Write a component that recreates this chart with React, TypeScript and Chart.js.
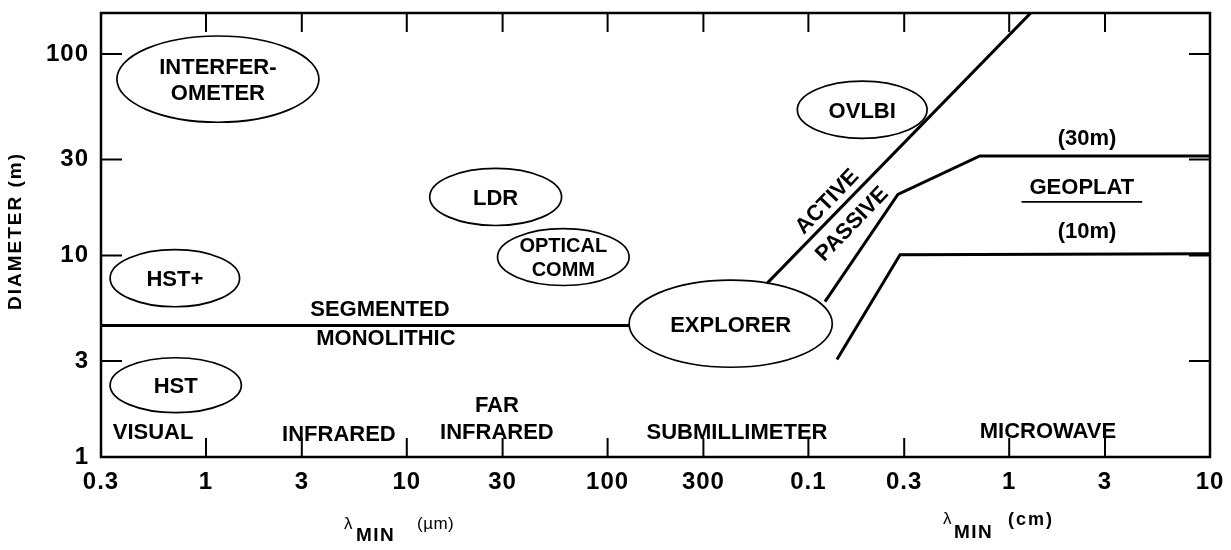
import React, { useEffect, useRef } from "react";
import { Chart, registerables } from "chart.js";

Chart.register(...registerables);

// ---------- data ----------
const xTickValues = [0.3, 1, 3, 10, 30, 100, 300, 1000, 3000, 10000, 30000, 100000];
const xTickLabels = ["0.3", "1", "3", "10", "30", "100", "300", "0.1", "0.3", "1", "3", "10"];
const yTickValues = [1, 3, 10, 30, 100];
const yTickLabels = ["1", "3", "10", "30", "100"];

// boundary lines (λ in µm, diameter in m)
const segmentedLine = [
  { x: 0.3, y: 4.5 },
  { x: 128, y: 4.5 },
];
const activeLine = [
  { x: 622, y: 7.28 },
  { x: 13500, y: 169 },
];
const passiveLine = [
  { x: 1210, y: 5.91 },
  { x: 2790, y: 20.1 },
  { x: 7140, y: 31.2 },
  { x: 100000, y: 31.2 },
];
const geoplat10Line = [
  { x: 1387, y: 3.05 },
  { x: 2860, y: 10.1 },
  { x: 100000, y: 10.2 },
];

// mission ellipses: text lines, λ extent (µm), diameter extent (m)
const ellipseNames = [
  ["INTERFER-", "OMETER"],
  ["HST+"],
  ["HST"],
  ["LDR"],
  ["OPTICAL", "COMM"],
  ["OVLBI"],
  ["EXPLORER"],
];
const ellipseLambda = [
  [0.36, 3.65],
  [0.333, 1.47],
  [0.333, 1.5],
  [13, 59],
  [28.3, 128],
  [881, 3900],
  [128, 1315],
];
const ellipseDiameter = [
  [45.9, 123],
  [5.57, 10.7],
  [1.66, 3.11],
  [14.1, 27.1],
  [7.1, 13.6],
  [38.2, 73.4],
  [2.79, 7.55],
];
const ellipseFontSize = [22, 22, 22, 22, 20, 22, 22];
const ellipseLineGap = [26, 0, 0, 0, 24, 0, 0];

// region / boundary labels
const regionLabels = [
  "SEGMENTED",
  "MONOLITHIC",
  "VISUAL",
  "INFRARED",
  "FAR",
  "INFRARED",
  "SUBMILLIMETER",
  "MICROWAVE",
  "(30m)",
  "GEOPLAT",
  "(10m)",
  "ACTIVE",
  "PASSIVE",
];
const regionLambda = [7.35, 7.87, 0.545, 4.59, 28.1, 28.1, 441, 15600, 24400, 23000, 24400, 1225, 1630];
const regionDiameter = [5.47, 3.93, 1.345, 1.32, 1.83, 1.345, 1.35, 1.36, 38.8, 22.2, 13.3, 18.7, 14.5];
const regionAngle = [0, 0, 0, 0, 0, 0, 0, 0, 0, 0, 0, -46, -46];

// ---------- drawing helpers ----------
const FONT = "'Liberation Sans', Arial, Helvetica, sans-serif";

function drawText(
  ctx: CanvasRenderingContext2D,
  s: string,
  x: number,
  y: number,
  size: number,
  weight: string,
  opts: { align?: CanvasTextAlign; ls?: number; rot?: number; baseline?: boolean } = {}
) {
  const ls = opts.ls || 0;
  const align = opts.align || "center";
  ctx.save();
  ctx.font = `${weight} ${size}px ${FONT}`;
  (ctx as any).letterSpacing = `${ls}px`;
  ctx.textAlign = align;
  ctx.textBaseline = "alphabetic";
  ctx.fillStyle = "#000";
  ctx.translate(x, y);
  if (opts.rot) ctx.rotate((opts.rot * Math.PI) / 180);
  const dx = align === "center" ? ls / 2 : 0;
  const dy = opts.baseline ? 0 : size * 0.358;
  ctx.fillText(s, dx, dy);
  ctx.restore();
}

const overlayPlugin = {
  id: "overlay",
  beforeDraw(chart: any) {
    (chart.ctx as any).letterSpacing = "1px";
  },
  afterDatasetsDraw(chart: any) {
    const ctx: CanvasRenderingContext2D = chart.ctx;
    (ctx as any).letterSpacing = "0px";
    const { left, right, top, bottom } = chart.chartArea;
    const xs = chart.scales.x;
    const ys = chart.scales.y;

    ctx.save();
    ctx.strokeStyle = "#000";
    ctx.lineWidth = 2.5;
    ctx.strokeRect(left, top, right - left, bottom - top);

    // inward tick marks on all four sides
    ctx.lineWidth = 2;
    ctx.beginPath();
    xTickValues.slice(1, -1).forEach((v) => {
      const px = xs.getPixelForValue(v);
      ctx.moveTo(px, bottom);
      ctx.lineTo(px, bottom - 19);
      ctx.moveTo(px, top);
      ctx.lineTo(px, top + 19);
    });
    yTickValues.slice(1).forEach((v) => {
      const py = ys.getPixelForValue(v);
      ctx.moveTo(left, py);
      ctx.lineTo(left + 21, py);
      ctx.moveTo(right, py);
      ctx.lineTo(right - 21, py);
    });
    ctx.stroke();

    // ellipses
    ctx.lineWidth = 1.7;
    ellipseNames.forEach((lines, i) => {
      const x0 = xs.getPixelForValue(ellipseLambda[i][0]);
      const x1 = xs.getPixelForValue(ellipseLambda[i][1]);
      const y0 = ys.getPixelForValue(ellipseDiameter[i][1]);
      const y1 = ys.getPixelForValue(ellipseDiameter[i][0]);
      const cx = (x0 + x1) / 2;
      const cy = (y0 + y1) / 2;
      ctx.beginPath();
      ctx.ellipse(cx, cy, (x1 - x0) / 2, (y1 - y0) / 2, 0, 0, Math.PI * 2);
      ctx.stroke();
      const gap = ellipseLineGap[i];
      lines.forEach((t, j) => {
        const off = (j - (lines.length - 1) / 2) * gap;
        drawText(ctx, t, cx, cy + off, ellipseFontSize[i], "bold");
      });
    });

    // region labels
    regionLabels.forEach((t, i) => {
      const px = xs.getPixelForValue(regionLambda[i]);
      const py = ys.getPixelForValue(regionDiameter[i]);
      drawText(ctx, t, px, py, 22, "bold", { rot: regionAngle[i] });
      if (t === "GEOPLAT") {
        ctx.save();
        ctx.font = `bold 22px ${FONT}`;
        const w = ctx.measureText(t).width;
        ctx.lineWidth = 1.7;
        ctx.beginPath();
        ctx.moveTo(px - w / 2 - 8, py + 16);
        ctx.lineTo(px + w / 2 + 8, py + 16);
        ctx.stroke();
        ctx.restore();
      }
    });

    // axis titles
    drawText(ctx, "DIAMETER (m)", 14, 232, 19, "bold", { rot: -90, ls: 2 });

    drawText(ctx, "λ", 344, 529, 17, "normal", { align: "left", baseline: true });
    drawText(ctx, "MIN", 356, 541, 19, "bold", { align: "left", baseline: true, ls: 1.5 });
    drawText(ctx, "(µm)", 417, 529, 17, "normal", { align: "left", baseline: true, ls: 0.5 });

    drawText(ctx, "λ", 943, 524, 17, "normal", { align: "left", baseline: true });
    drawText(ctx, "MIN", 954, 538, 19, "bold", { align: "left", baseline: true, ls: 1.5 });
    drawText(ctx, "(cm)", 1008, 525, 18, "bold", { align: "left", baseline: true, ls: 2 });

    ctx.restore();
  },
};

function lineDataset(data: { x: number; y: number }[]) {
  return {
    data,
    showLine: true,
    borderColor: "#000",
    backgroundColor: "#000",
    borderWidth: 3,
    pointRadius: 0,
    fill: false,
    tension: 0,
  };
}

export default function App() {
  const canvasRef = useRef<HTMLCanvasElement | null>(null);

  useEffect(() => {
    const canvas = canvasRef.current;
    if (!canvas) return;
    const tickFont = { family: FONT, size: 24, weight: "bold" as const };
    const chart = new Chart(canvas, {
      type: "scatter",
      data: {
        datasets: [
          lineDataset(segmentedLine),
          lineDataset(activeLine),
          lineDataset(passiveLine),
          lineDataset(geoplat10Line),
        ],
      },
      options: {
        responsive: false,
        animation: false,
        events: [],
        layout: { padding: { top: 13, right: 21, left: 0, bottom: 0 } },
        plugins: {
          legend: { display: false },
          tooltip: { enabled: false },
          title: { display: false },
        },
        scales: {
          x: {
            type: "logarithmic",
            min: 0.3,
            max: 100000,
            grid: { display: false, drawTicks: false },
            border: { display: false },
            afterBuildTicks: (s: any) => {
              s.ticks = xTickValues.map((v) => ({ value: v }));
            },
            afterFit: (s: any) => {
              s.height = 93;
              s.paddingLeft = 0;
              s.paddingRight = 0;
            },
            ticks: {
              autoSkip: false,
              maxRotation: 0,
              minRotation: 0,
              padding: 11,
              color: "#000",
              font: tickFont,
              callback: (_v: any, i: number) => xTickLabels[i],
            },
          },
          y: {
            type: "logarithmic",
            min: 1,
            max: 160,
            grid: { display: false, drawTicks: false },
            border: { display: false },
            afterBuildTicks: (s: any) => {
              s.ticks = yTickValues.map((v) => ({ value: v }));
            },
            afterFit: (s: any) => {
              s.width = 101;
              s.paddingTop = 0;
              s.paddingBottom = 0;
            },
            ticks: {
              autoSkip: false,
              padding: 12,
              color: "#000",
              font: tickFont,
              callback: (_v: any, i: number) => yTickLabels[i],
            },
          },
        },
      },
      plugins: [overlayPlugin],
    });
    return () => chart.destroy();
  }, []);

  return (
    <div style={{ position: "fixed", left: 0, top: 0, width: 1231, height: 550, background: "#fff" }}>
      <canvas ref={canvasRef} width={1231} height={550} style={{ display: "block" }} />
    </div>
  );
}
